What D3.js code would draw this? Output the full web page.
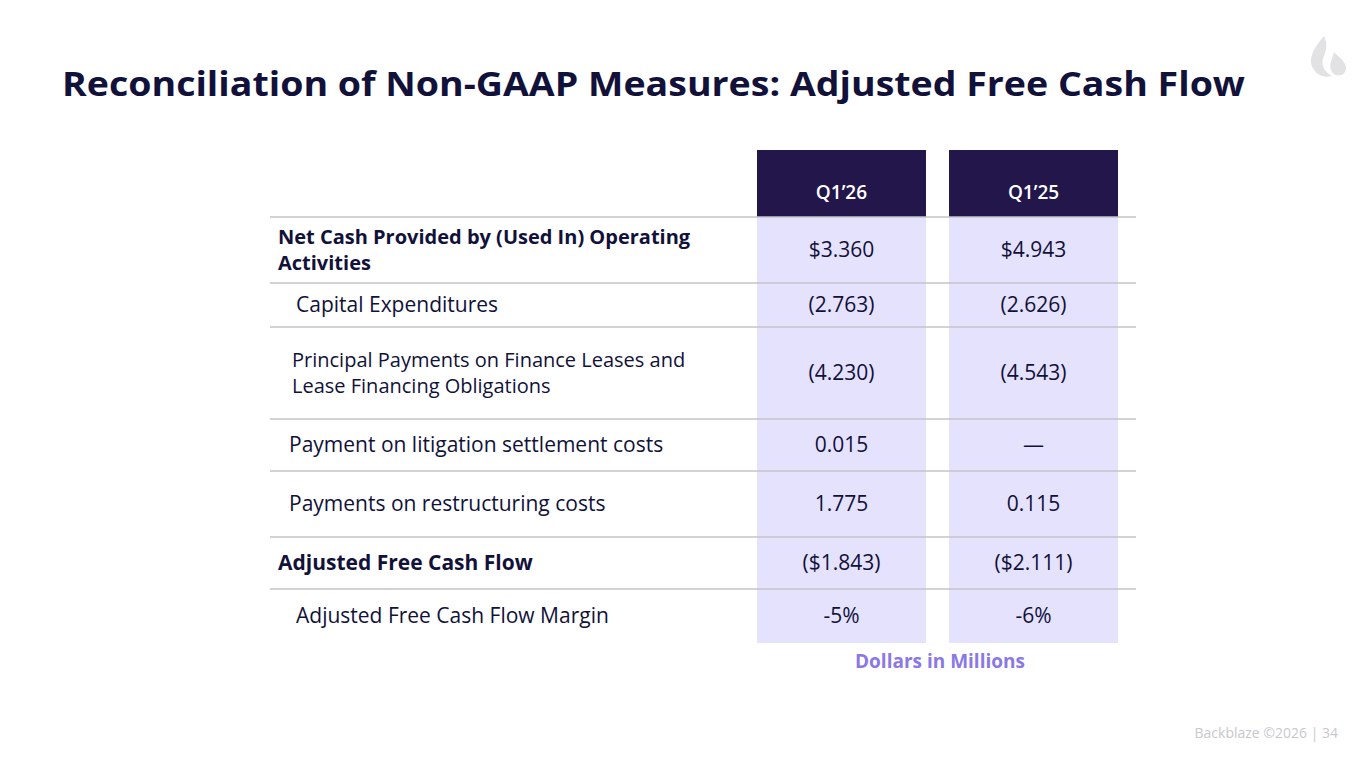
<!DOCTYPE html>
<html>
<head>
<meta charset="utf-8">
<script src="https://cdn.jsdelivr.net/npm/d3@7"></script>
<style>
  body { margin: 0; background: #fff; }
  svg { display: block; font-family: "Open Sans", "Noto Sans", sans-serif; }
</style>
</head>
<body>
<svg id="chart"></svg>
<script>
var width = 1365, height = 768;

// data
var periods = ["Q1\u201926", "Q1\u201925"];
var rowLabels = [
  ["Net Cash Provided by (Used In) Operating", "Activities"],
  ["Capital Expenditures"],
  ["Principal Payments on Finance Leases and", "Lease Financing Obligations"],
  ["Payment on litigation settlement costs"],
  ["Payments on restructuring costs"],
  ["Adjusted Free Cash Flow"],
  ["Adjusted Free Cash Flow Margin"]
];
var rowBold = [true, false, false, false, false, true, false];
var q126Values = ["$3.360", "(2.763)", "(4.230)", "0.015", "1.775", "($1.843)", "-5%"];
var q125Values = ["$4.943", "(2.626)", "(4.543)", "\u2014", "0.115", "($2.111)", "-6%"];

// layout (row boundaries)
var rowEdges = [217, 283, 327, 419, 471, 537, 589, 643];
var labelIndent = [278, 296, 292, 289, 289, 278, 296];

var svg = d3.select("#chart").attr("width", width).attr("height", height);

var colX = d3.scaleBand().domain(periods).range([757, 1118]).paddingInner(0.12);
var navy = "#11113a";

// light column backgrounds + header boxes
periods.forEach(function(p) {
  svg.append("rect").attr("x", colX(p)).attr("y", 217)
     .attr("width", colX.bandwidth()).attr("height", 643 - 217).attr("fill", "#e5e2fd");
  svg.append("rect").attr("x", colX(p)).attr("y", 150)
     .attr("width", colX.bandwidth()).attr("height", 67).attr("fill", "#22164b");
  svg.append("text").attr("x", colX(p) + colX.bandwidth() / 2).attr("y", 199)
     .attr("text-anchor", "middle").attr("font-size", 19).attr("font-weight", 600)
     .attr("fill", "#fff").text(p);
});

// horizontal lines
svg.selectAll("line.rule").data(rowEdges.slice(0, 7)).enter().append("line")
   .attr("x1", 270).attr("x2", 1136).attr("y1", function(d) { return d; }).attr("y2", function(d) { return d; })
   .attr("stroke", "#c4c4c8").attr("stroke-width", 1.5);

rowLabels.forEach(function(lines, i) {
  var mid = (rowEdges[i] + rowEdges[i + 1]) / 2;
  lines.forEach(function(l, j) {
    svg.append("text").attr("x", labelIndent[i])
       .attr("y", mid + 7 + (j - (lines.length - 1) / 2) * 26)
       .attr("font-size", lines.length > 1 ? 20 : 21)
       .attr("font-weight", rowBold[i] ? 700 : 400).attr("fill", navy)
       .text(l);
  });
  [q126Values, q125Values].forEach(function(vals, k) {
    svg.append("text").attr("x", colX(periods[k]) + colX.bandwidth() / 2).attr("y", mid + 7)
       .attr("text-anchor", "middle").attr("font-size", 21).attr("fill", navy).text(vals[i]);
  });
});

// title
svg.append("text").attr("x", 62).attr("y", 96).attr("font-size", 34).attr("font-weight", 700)
   .attr("textLength", 1183).attr("lengthAdjust", "spacingAndGlyphs")
   .attr("fill", navy).text("Reconciliation of Non-GAAP Measures: Adjusted Free Cash Flow");

svg.append("text").attr("x", 940).attr("y", 668).attr("text-anchor", "middle")
   .attr("font-size", 19).attr("font-weight", 700).attr("fill", "#8a78e6").text("Dollars in Millions");

svg.append("text").attr("x", 1338).attr("y", 738).attr("text-anchor", "end")
   .attr("font-size", 14).attr("fill", "#c8c8cc").text("Backblaze \u00a92026 |  34");

// logo flame
var g = svg.append("g").attr("transform", "translate(1312,36)").attr("fill", "#e2e2e4");
g.append("path").attr("d", "M12 0 C4 10 -6 22 2 34 C6 40 14 42 20 40 C12 36 8 28 12 20 C14 14 16 8 12 0 Z");
g.append("path").attr("d", "M22 16 C20 24 16 30 20 36 C24 42 34 40 34 32 C34 26 28 22 22 16 Z");
</script>
</body>
</html>
